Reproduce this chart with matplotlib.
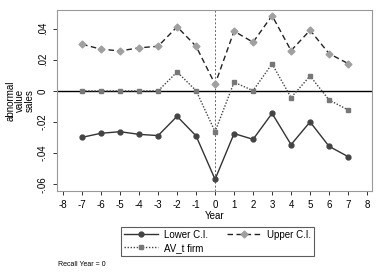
import matplotlib
matplotlib.use("Agg")
import matplotlib.pyplot as plt
from matplotlib.ticker import FuncFormatter

# data
years = list(range(-7, 8))
upper_ci = [0.0300, 0.0268, 0.0257, 0.0277, 0.0287, 0.0412, 0.0287, 0.0043,
            0.0384, 0.0313, 0.0484, 0.0259, 0.0390, 0.0240, 0.0176]
av_firm = [0.0, 0.0, 0.0, 0.0, 0.0, 0.0122, 0.0002, -0.0262,
           0.0056, 0.0002, 0.0174, -0.0043, 0.0096, -0.0058, -0.0122]
lower_ci = [-0.0298, -0.0272, -0.0262, -0.0279, -0.0287, -0.0163, -0.0289, -0.0568,
            -0.0274, -0.0311, -0.0144, -0.0345, -0.0199, -0.0356, -0.0422]
xticks = list(range(-8, 9))
yticks = [-0.06, -0.04, -0.02, 0, 0.02, 0.04]

plt.rcParams['font.family'] = ['Liberation Sans', 'DejaVu Sans']
plt.rcParams['axes.unicode_minus'] = False

fig = plt.figure(figsize=(3.82, 2.78), dpi=100)
ax = fig.add_axes([57 / 382, 1 - 191 / 278, 315 / 382, 181 / 278])

ax.axhline(0, color='black', lw=1.0, zorder=1)
ax.axvline(0, color='#666666', lw=0.7, ls=(0, (2, 2)), zorder=1)

l1, = ax.plot(years, lower_ci, color='#333333', lw=1.0, marker='o', ms=3.5,
              mfc='#444444', mec='#444444', label='Lower C.I.')
l2, = ax.plot(years, upper_ci, color='#222222', lw=1.0, ls=(0, (4, 2.5)),
              marker='D', ms=3.5, mfc='#a0a0a0', mec='#a0a0a0', label='Upper C.I.')
l3, = ax.plot(years, av_firm, color='#444444', lw=1.0, ls=(0, (1, 1.2)),
              marker='s', ms=3.5, mfc='#777777', mec='#777777', label='AV_t firm')

ax.set_xlim(-8.32, 8.26)
ax.set_ylim(-0.0643, 0.052)
ax.set_xticks(xticks)
ax.set_yticks(yticks)


def yfmt(v, pos):
    if abs(v) < 1e-12:
        return '0'
    s = '%g' % v
    return s.replace('0.', '.')


ax.yaxis.set_major_formatter(FuncFormatter(yfmt))
ax.tick_params(axis='both', labelsize=7, length=3, width=0.7, color='#333333')
for lab in ax.get_yticklabels():
    lab.set_rotation(90)
    lab.set_va('center')
for sp in ax.spines.values():
    sp.set_color('#999999')
    sp.set_linewidth(0.8)

ax.set_xlabel('Year', fontsize=7, labelpad=1)
ax.set_ylabel('abnormal\nvalue\nsales', fontsize=7, linespacing=1.0, labelpad=2)

leg = fig.legend([l1, l3, l2], ['Lower C.I.', 'AV_t firm', 'Upper C.I.'],
                 ncol=2, loc='upper left', bbox_to_anchor=(116 / 382, 1 - 222 / 278),
                 fontsize=7, frameon=True, fancybox=False, handlelength=3.5,
                 borderpad=0.3, labelspacing=0.3, columnspacing=2.0,
                 handletextpad=0.6)
leg.get_frame().set_edgecolor('#333333')
leg.get_frame().set_linewidth(0.8)

fig.text(58 / 382, 1 - 265 / 278, 'Recall Year = 0', fontsize=5, va='center')

fig.savefig('out.png', dpi=100)
